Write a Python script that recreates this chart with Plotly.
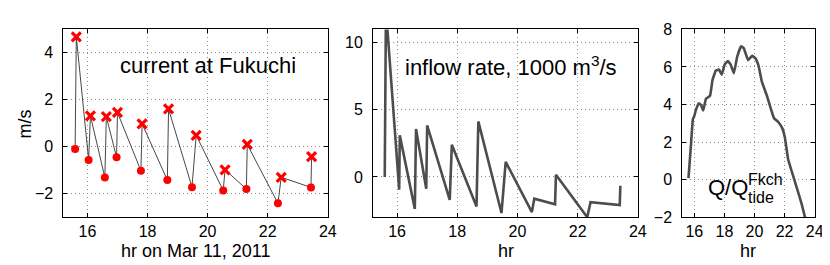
import plotly.graph_objects as go

# ---- data ----
# panel 1: current at Fukuchi (m/s)
t_low = [15.59, 16.04, 16.58, 16.97, 17.78, 18.66, 19.48, 20.52, 21.29, 22.34, 23.44]
v_low = [-0.09, -0.56, -1.31, -0.45, -1.02, -1.42, -1.72, -1.86, -1.80, -2.41, -1.73]
t_high = [15.63, 16.10, 16.63, 17.00, 17.82, 18.70, 19.62, 20.58, 21.32, 22.45, 23.46]
v_high = [4.68, 1.32, 1.28, 1.46, 0.98, 1.61, 0.49, -0.98, 0.10, -1.30, -0.42]

# panel 2: inflow rate (1000 m^3/s)
t_in = [15.59, 15.63, 16.07, 16.09, 16.59, 16.63, 16.97, 17.00, 17.75, 17.82, 18.64,
        18.70, 19.47, 19.61, 20.48, 20.56, 21.25, 21.28, 22.32, 22.43, 23.40, 23.42]
q_in = [0.0, 12.5, -0.95, 3.1, -2.39, 3.58, -0.88, 3.84, -1.71, 2.4, -2.2,
        4.14, -2.69, 1.13, -2.62, -1.62, -2.04, 0.16, -3.0, -1.88, -2.1, -0.65]

# panel 3: Q / Q_tide^Fkch
t_q = [15.61, 15.78, 15.90, 16.00, 16.11, 16.29, 16.44, 16.59, 16.77, 16.92, 17.05,
       17.21, 17.43, 17.64, 17.82, 18.02, 18.23, 18.41, 18.63, 18.85, 19.11, 19.29,
       19.57, 19.84, 20.05, 20.27, 20.49, 20.82, 21.04, 21.30, 21.58, 21.85, 22.02,
       22.24, 22.68, 23.12, 23.45]
r_q = [0.08, 1.9, 3.2, 3.4, 3.73, 4.06, 3.98, 3.68, 4.31, 4.39, 4.48,
       5.31, 5.81, 5.86, 5.59, 6.14, 6.31, 6.14, 5.67, 6.55, 7.1, 7.0,
       6.36, 6.59, 6.47, 6.06, 5.22, 4.48, 3.9, 3.27, 3.07, 2.73, 2.24,
       1.07, -0.09, -1.25, -2.3]

x_ticks = [16, 18, 20, 22, 24]
y1_ticks = [-2, 0, 2, 4]
y2_ticks = [0, 5, 10]
y3_ticks = [-2, 0, 2, 4, 6, 8]

# interleave low/high for the connecting line
t_line, v_line = [], []
for a, b, c, d in zip(t_low, v_low, t_high, v_high):
    t_line += [a, c]
    v_line += [b, d]

W, H = 830, 265
FONT = "Liberation Sans, Arial, Helvetica, sans-serif"

def px(x):
    return x / W

def py(y):
    return 1 - y / H

fig = go.Figure()

fig.add_trace(go.Scatter(x=t_line, y=v_line, mode="lines",
                         line=dict(color="#333333", width=0.9),
                         xaxis="x", yaxis="y", showlegend=False))
fig.add_trace(go.Scatter(x=t_low, y=v_low, mode="markers",
                         marker=dict(symbol="circle", size=8, color="#ff0000"),
                         xaxis="x", yaxis="y", showlegend=False, cliponaxis=False))
fig.add_trace(go.Scatter(x=t_high, y=v_high, mode="markers",
                         marker=dict(symbol="x-thin", size=9,
                                     line=dict(color="#ff0000", width=3.2)),
                         xaxis="x", yaxis="y", showlegend=False, cliponaxis=False))

fig.add_trace(go.Scatter(x=t_in, y=q_in, mode="lines",
                         line=dict(color="#4d4d4d", width=2.6),
                         xaxis="x2", yaxis="y2", showlegend=False))

fig.add_trace(go.Scatter(x=t_q, y=r_q, mode="lines",
                         line=dict(color="#4d4d4d", width=2.6, shape="spline", smoothing=0.3),
                         xaxis="x3", yaxis="y3", showlegend=False))

y_dom = [py(215), py(14.3)]
common = dict(showline=True, linecolor="black", linewidth=1, mirror="ticks",
              ticks="inside", ticklen=4, tickcolor="black", tickwidth=1,
              showgrid=True, gridcolor="#8c8c8c", gridwidth=1, griddash="1px,3px",
              zeroline=False, tickfont=dict(family=FONT, size=16, color="black"))

fig.update_layout(
    width=W, height=H, autosize=False,
    margin=dict(l=0, r=0, t=0, b=0),
    paper_bgcolor="white", plot_bgcolor="white",
    xaxis=dict(domain=[px(56), px(323.3)], range=[15.2, 24], tickvals=x_ticks,
               anchor="y", ticklabelstandoff=0, **common),
    yaxis=dict(domain=y_dom, range=[-3, 5], tickvals=y1_ticks, anchor="x",
               ticklabelstandoff=6, **common),
    xaxis2=dict(domain=[px(369), px(636.7)], range=[15.2, 24], tickvals=x_ticks,
                anchor="y2", ticklabelstandoff=0, **common),
    yaxis2=dict(domain=y_dom, range=[-3, 11], tickvals=y2_ticks, anchor="x2",
                ticklabelstandoff=6, **common),
    xaxis3=dict(domain=[px(681.7), px(815.5)], range=[15.2, 24], tickvals=x_ticks,
                anchor="y3", ticklabelstandoff=0, **common),
    yaxis3=dict(domain=y_dom, range=[-2, 8], tickvals=y3_ticks, anchor="x3",
                ticklabelstandoff=6, **common),
)

def ann(text, x, y, size, xanchor="center", yanchor="middle", angle=0):
    fig.add_annotation(text=text, x=px(x), y=py(y), xref="paper", yref="paper",
                       xanchor=xanchor, yanchor=yanchor, textangle=angle,
                       showarrow=False, font=dict(family=FONT, size=size, color="black"))

# axis labels
ann("m/s", 17, 115, 18, angle=-90)
ann("hr on Mar 11, 2011", 189.5, 251, 18)
ann("hr", 503, 251, 18)
ann("hr", 748, 251, 18)

# in-panel texts
ann("current at Fukuchi", 111, 53, 22, xanchor="left")
ann("inflow rate, 1000 m<sup>3</sup>/s", 399, 53, 22, xanchor="left")
ann("Q/Q", 706, 183, 22, xanchor="left")
ann("Fkch", 746.5, 175, 16, xanchor="left")
ann("tide", 746.5, 194, 16, xanchor="left")

fig.write_html("out.html")
